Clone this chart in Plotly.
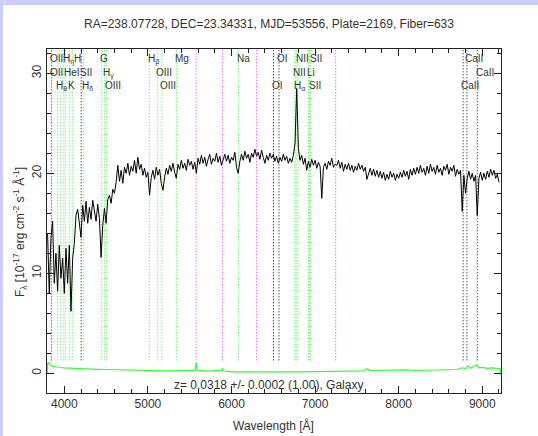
import numpy as np
import plotly.graph_objects as go

TITLE = "RA=238.07728, DEC=23.34331, MJD=53556, Plate=2169, Fiber=633"
Z = 0.0318
Z_TEXT = "z= 0.0318 +/- 0.0002 (1.00), Galaxy"

# spectrum sampled every 20 A from 3800 to 9200 (observed frame)
WAVE_START, WAVE_STOP, WAVE_STEP = 3800, 9200, 20
FLUX = [
    14.0, 8.0, 13.5, 15.2, 9.0, 12.0, 8.2, 12.8, 9.5, 11.5,          # 3800-3980
    8.0, 12.5, 9.0, 12.8, 6.2, 11.5, 13.0, 15.8, 16.4, 15.0,          # 4000-4180
    13.6, 16.8, 15.2, 17.2, 15.0, 16.6, 15.4, 17.3, 16.0, 15.2,       # 4200-4380
    16.9, 15.5, 11.6, 14.8, 16.5, 15.0, 17.4, 17.8, 17.0, 18.4,       # 4400-4580
    18.0, 19.1, 20.8, 19.2, 20.3, 19.0, 20.6, 20.0, 21.0, 19.8,       # 4600-4780
    20.7, 20.2, 21.3, 20.0, 21.6, 20.4, 20.9, 19.8, 20.5, 19.6,       # 4800-4980
    20.1, 17.8, 19.6, 20.3, 19.4, 20.6, 19.8, 20.4, 19.0, 18.3,       # 5000-5180
    19.6, 20.5, 19.9, 20.8, 20.2, 21.0, 20.1, 19.5, 20.9, 20.4,       # 5200-5380
    21.3, 20.5, 21.0, 20.3, 21.4, 20.8, 21.2, 20.4, 21.1, 20.0,       # 5400-5580
    21.5, 20.9, 21.8, 21.0, 21.6, 20.7, 21.4, 21.9, 20.9, 21.5,       # 5600-5780
    21.2, 22.0, 21.1, 21.7, 20.8, 21.4, 21.9, 21.2, 21.8, 21.0,       # 5800-5980
    21.6, 21.3, 22.1, 20.6, 20.0, 21.2, 21.9, 21.3, 22.2, 21.5,       # 6000-6180
    21.9, 21.1, 22.0, 21.6, 22.4, 21.7, 22.1, 21.4, 22.3, 21.6,       # 6200-6380
    21.0, 21.8, 21.3, 22.0, 21.5, 21.9, 21.2, 21.7, 21.0, 21.6,       # 6400-6580
    21.2, 21.9, 21.3, 21.7, 21.0, 21.5, 21.1, 21.8, 23.0, 28.5,       # 6600-6780
    22.5, 21.3, 21.8, 20.9, 21.5, 20.3, 21.2, 20.6, 21.4, 20.8,       # 6800-6980
    21.3, 20.5, 21.1, 20.7, 17.5, 20.6, 21.0, 20.4, 21.2, 20.8,       # 7000-7180
    21.5, 20.6, 20.9, 20.8, 21.3, 20.5, 21.1, 20.2, 20.9, 20.4,       # 7200-7380
    21.0, 20.3, 20.8, 20.1, 20.7, 20.3, 21.0, 20.4, 20.8, 20.2,       # 7400-7580
    20.6, 19.4, 19.9, 20.5, 19.8, 20.4, 19.7, 20.3, 19.6, 20.2,       # 7600-7780
    19.5, 20.1, 19.3, 19.9, 19.4, 20.2, 19.6, 20.0, 19.3, 19.9,       # 7800-7980
    19.5, 20.1, 19.6, 20.3, 19.7, 20.2, 19.4, 20.4, 19.8, 20.5,       # 8000-8180
    19.9, 20.6, 20.0, 20.8, 20.1, 20.5, 19.8, 20.7, 20.0, 20.9,       # 8200-8380
    20.2, 20.6, 19.9, 20.8, 20.1, 20.5, 19.8, 20.7, 20.3, 20.9,       # 8400-8580
    19.9, 20.6, 20.2, 20.8, 19.7, 20.4, 19.9, 20.3, 16.2, 19.8,       # 8600-8780
    18.0, 19.5, 20.2, 19.4, 20.0, 19.2, 19.8, 15.8, 19.5, 20.1,       # 8800-8980
    19.3, 20.0, 19.4, 20.2, 19.6, 20.4, 19.8, 20.3, 19.5, 19.9,       # 9000-9180
    19.1,                                                             # 9200
]

# error spectrum (green)
ERR_WAVE = [3795, 3800, 3810, 3830, 3860, 3900, 3950, 4000, 4100, 4200, 4300,
            4400, 4500, 4600, 4700, 4800, 4900, 5000, 5100, 5200, 5300, 5400,
            5500, 5565, 5577, 5590, 5700, 5800, 5880, 5893, 5905, 6000, 6100,
            6200, 6300, 6400, 6500, 6600, 6700, 6800, 6900, 7000, 7100, 7200,
            7300, 7400, 7500, 7580, 7620, 7660, 7700, 7800, 7900, 8000, 8100,
            8200, 8300, 8400, 8500, 8600, 8700, 8760, 8800, 8830, 8860, 8900,
            8930, 8960, 9000, 9060, 9120, 9180, 9215, 9224]
ERR = [0.0, 1.0, 1.05, 0.85, 0.7, 0.62, 0.58, 0.55, 0.5, 0.45, 0.42,
       0.4, 0.38, 0.35, 0.33, 0.3, 0.3, 0.28, 0.26, 0.25, 0.25, 0.24,
       0.24, 0.3, 1.1, 0.3, 0.22, 0.25, 0.3, 0.5, 0.25, 0.15, 0.14,
       0.13, 0.14, 0.12, 0.13, 0.14, 0.15, 0.15, 0.16, 0.14, 0.16, 0.18,
       0.2, 0.18, 0.2, 0.25, 0.45, 0.3, 0.28, 0.3, 0.25, 0.3, 0.35,
       0.28, 0.3, 0.35, 0.32, 0.4, 0.38, 0.55, 0.45, 0.75, 0.5, 0.7,
       0.85, 0.55, 0.6, 0.5, 0.55, 0.5, 0.45, -0.1]

# spectral line markers (rest wavelengths)
LINE_LABELS = ["OII", "OII", "H<sub>θ</sub>", "H<sub>η</sub>", "", "HeI", "K", "H",
               "SII", "H<sub>δ</sub>", "G", "H<sub>γ</sub>", "OIII", "H<sub>β</sub>",
               "OIII", "OIII", "Mg", "Na", "OI", "OI", "NII", "H<sub>α</sub>", "NII",
               "Li", "SII", "SII", "CaII", "CaII", "CaII"]
LINE_REST = [3727.09, 3729.88, 3798.98, 3836.47, 3869.85, 3889.0, 3934.78, 3969.59,
             4072.3, 4102.89, 4305.61, 4341.68, 4364.44, 4862.68,
             4960.30, 5008.24, 5176.7, 5895.6, 6302.05, 6365.54, 6549.86, 6564.61, 6585.27,
             6707.89, 6718.29, 6732.67, 8500.36, 8544.44, 8664.52]
LINE_ROW = [1, 2, 3, 1, 0, 2, 3, 1, 2, 3, 1, 2, 3, 1, 2, 3, 1, 1, 3, 1, 2, 3, 1, 2, 1, 3, 3, 1, 2]
LINE_KIND = ["k", "g", "g", "g", "g", "g", "g", "g", "k", "g", "g", "g", "g", "g",
             "g", "g", "g", "g", "k", "k", "g", "g", "g", "g", "g", "g", "k", "k", "k"]
SKY_LINES = [5577.0, 5893.0, 6300.0, 7246.0]

X_RANGE = [3793, 9224]
Y_RANGE = [-1.97, 32.43]
ROW_Y = {1: 32.2, 2: 30.85, 3: 29.5}
LINE_BOTTOM = 1.3
LABEL_SHIFT = -45          # label left edge relative to line (A)
LABEL_NUDGE = {3: 45, 7: 45, 8: 10, 24: 25}   # extra shift (A) to keep packed labels apart

wave = np.arange(WAVE_START, WAVE_STOP + 1, WAVE_STEP)
flux = np.array(FLUX)
TXT = "#333333"
FONT = "Liberation Sans"
GREEN_L = "#33ff33"

fig = go.Figure()
fig.add_trace(go.Scatter(x=wave, y=flux, mode="lines",
                         line=dict(color="black", width=1), hoverinfo="skip",
                         showlegend=False))
fig.add_trace(go.Scatter(x=ERR_WAVE, y=ERR, mode="lines",
                         line=dict(color=GREEN_L, width=1.2), hoverinfo="skip",
                         showlegend=False))

shapes = []
# white page on lavender frame
shapes.append(dict(type="rect", xref="paper", yref="paper",
                   x0=(3 - 47) / 454, x1=(540 - 47) / 454,
                   y0=(393 - 440) / 344, y1=(393 - 5) / 344,
                   fillcolor="white", line=dict(width=0), layer="below"))
colmap = {"g": GREEN_L, "k": "#000000"}
annotations = []
for i, (lab, rest, row, kind) in enumerate(zip(LINE_LABELS, LINE_REST, LINE_ROW, LINE_KIND)):
    obs = rest * (1 + Z)
    shapes.append(dict(type="line", xref="x", yref="y", x0=obs, x1=obs,
                       y0=LINE_BOTTOM, y1=Y_RANGE[1],
                       line=dict(color=colmap[kind], width=1, dash="1px,2px"),
                       layer="below"))
    if lab and row:
        annotations.append(dict(x=obs + LABEL_SHIFT + LABEL_NUDGE.get(i, 0), y=ROW_Y[row],
                                xref="x", yref="y",
                                text=lab, showarrow=False, xanchor="left",
                                yanchor="top", font=dict(family=FONT, size=10, color=TXT)))
for s in SKY_LINES:
    shapes.append(dict(type="line", xref="x", yref="y", x0=s, x1=s,
                       y0=LINE_BOTTOM, y1=Y_RANGE[1],
                       line=dict(color="#ff33ff", width=1, dash="1px,2px"),
                       layer="below"))

annotations.append(dict(text=TITLE, xref="paper", yref="paper",
                        x=(269 - 47) / 454, y=(393 - 24) / 344,
                        showarrow=False, xanchor="center", yanchor="middle",
                        font=dict(family=FONT, size=12, color=TXT)))
annotations.append(dict(text=Z_TEXT, xref="paper", yref="paper",
                        x=(172 - 47) / 454, y=(393 - 385) / 344,
                        showarrow=False, xanchor="left", yanchor="middle",
                        font=dict(family=FONT, size=12, color=TXT)))
annotations.append(dict(text="Wavelength [Å]", xref="paper", yref="paper",
                        x=(273 - 47) / 454, y=(393 - 425) / 344,
                        showarrow=False, xanchor="center", yanchor="middle",
                        font=dict(family=FONT, size=12, color=TXT)))
annotations.append(dict(text="F<sub>λ</sub> [10<sup>-17</sup> erg cm<sup>-2</sup> s<sup>-1</sup> Å<sup>-1</sup>]",
                        xref="paper", yref="paper",
                        x=(20 - 47) / 454, y=(393 - 232) / 344, textangle=-90,
                        showarrow=False, xanchor="center", yanchor="middle",
                        font=dict(family=FONT, size=12, color=TXT)))

axis_common = dict(showline=True, linecolor="#222222", linewidth=1, mirror="ticks",
                   ticks="inside", showgrid=False, zeroline=False,
                   tickfont=dict(family=FONT, size=12, color=TXT), tickcolor="#222222")

fig.update_layout(
    width=538, height=436,
    margin=dict(l=47, r=37, t=49, b=43),
    paper_bgcolor="#ccccff", plot_bgcolor="white",
    shapes=shapes, annotations=annotations, showlegend=False,
    xaxis=dict(range=X_RANGE, tickvals=[4000, 5000, 6000, 7000, 8000, 9000],
               ticklen=7, minor=dict(dtick=200, tick0=4000, ticks="inside", ticklen=4, tickcolor="#222222"),
               **axis_common),
    yaxis=dict(range=Y_RANGE, tickvals=[0, 10, 20, 30], ticklen=7, tickangle=-90,
               minor=dict(dtick=2, tick0=0, ticks="inside", ticklen=4, tickcolor="#222222"),
               **axis_common),
)

fig.write_html("out.html")
